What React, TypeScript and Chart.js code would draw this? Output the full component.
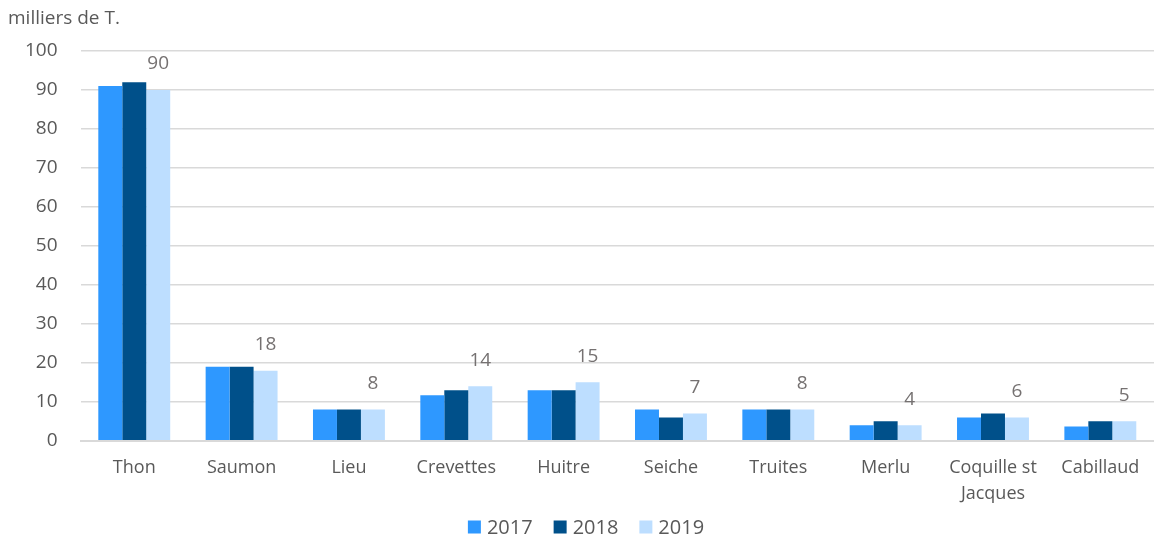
import React, { useEffect, useRef } from "react";
import { Chart, registerables } from "chart.js";

Chart.register(...registerables);

const categories: (string | string[])[] = [
  "Thon",
  "Saumon",
  "Lieu",
  "Crevettes",
  "Huitre",
  "Seiche",
  "Truites",
  "Merlu",
  ["Coquille st", "Jacques"],
  "Cabillaud",
];
const values2017 = [91, 19, 8, 11.7, 13, 8, 8, 4, 6, 3.7];
const values2018 = [92, 19, 8, 13, 13, 6, 8, 5, 7, 5];
const values2019 = [90, 18, 8, 14, 15, 7, 8, 4, 6, 5];
const seriesNames = ["2017", "2018", "2019"];
const seriesColors = ["#2E98FF", "#00508A", "#BDDEFF"];
const yTitle = "milliers de T.";

const FONT = "'Open Sans', sans-serif";
const TEXT = "#595959";

const labelPlugin = {
  id: "labels2019",
  afterDatasetsDraw(chart: any) {
    const ctx = chart.ctx;
    const meta = chart.getDatasetMeta(2);
    ctx.save();
    ctx.font = `19px ${FONT}`;
    ctx.fillStyle = "#757171";
    ctx.textAlign = "center";
    ctx.textBaseline = "middle";
    meta.data.forEach((bar: any, i: number) => {
      const v = chart.data.datasets[2].data[i];
      ctx.fillText(String(v), bar.x, bar.y - 26);
    });
    ctx.restore();
  },
};

const titlePlugin = {
  id: "yTitle",
  afterDraw(chart: any) {
    const ctx = chart.ctx;
    ctx.save();
    ctx.font = `19px ${FONT}`;
    ctx.fillStyle = TEXT;
    ctx.textAlign = "left";
    ctx.textBaseline = "middle";
    ctx.fillText(yTitle, 8, 19);
    ctx.restore();
  },
};

const legendPlugin = {
  id: "customLegend",
  afterDraw(chart: any) {
    const ctx = chart.ctx;
    ctx.save();
    ctx.font = `20px ${FONT}`;
    ctx.textBaseline = "middle";
    ctx.textAlign = "left";
    const box = 13;
    const gap = 6;
    const spacing = 21;
    const ds = chart.data.datasets;
    const widths = ds.map((d: any) => box + gap + ctx.measureText(d.label).width);
    const total = widths.reduce((a: number, b: number) => a + b, 0) + spacing * (ds.length - 1);
    let x = 586 - total / 2;
    const y = 527;
    ds.forEach((d: any, i: number) => {
      ctx.fillStyle = d.backgroundColor;
      ctx.fillRect(x, y - box / 2, box, box);
      ctx.fillStyle = TEXT;
      ctx.fillText(d.label, x + box + gap, y + 1);
      x += widths[i] + spacing;
    });
    ctx.restore();
  },
};

export default function App() {
  const ref = useRef<HTMLCanvasElement | null>(null);
  useEffect(() => {
    if (!ref.current) return;
    const chart = new Chart(ref.current, {
      type: "bar",
      data: {
        labels: categories,
        datasets: [
          { label: seriesNames[0], data: values2017, backgroundColor: seriesColors[0] },
          { label: seriesNames[1], data: values2018, backgroundColor: seriesColors[1] },
          { label: seriesNames[2], data: values2019, backgroundColor: seriesColors[2] },
        ],
      },
      options: {
        responsive: false,
        animation: false,
        layout: { padding: { top: 51, left: 2, right: 0, bottom: 28 } },
        datasets: {
          bar: { barPercentage: 1, categoryPercentage: 0.67 },
        },
        plugins: {
          tooltip: { enabled: false },
          legend: { display: false },
        },
        scales: {
          x: {
            grid: { display: false },
            border: { display: true, color: "#d9d9d9", width: 2 },
            ticks: {
              color: TEXT,
              font: { family: FONT, size: 18, lineHeight: 1.45 },
              padding: 6,
              maxRotation: 0,
              autoSkip: false,
            },
          },
          y: {
            min: 0,
            max: 100,
            ticks: {
              stepSize: 10,
              color: TEXT,
              font: { family: FONT, size: 19 },
              padding: 23,
            },
            grid: { color: "#d9d9d9", lineWidth: 1.5, drawTicks: false },
            border: { display: false },
          },
        },
      },
      plugins: [labelPlugin, titlePlugin, legendPlugin],
    });
    return () => chart.destroy();
  }, []);
  return (
    <div style={{ position: "absolute", left: 0, top: 0, width: 1154, height: 541, background: "#fff" }}>
      <canvas ref={ref} width={1154} height={541} />
    </div>
  );
}
